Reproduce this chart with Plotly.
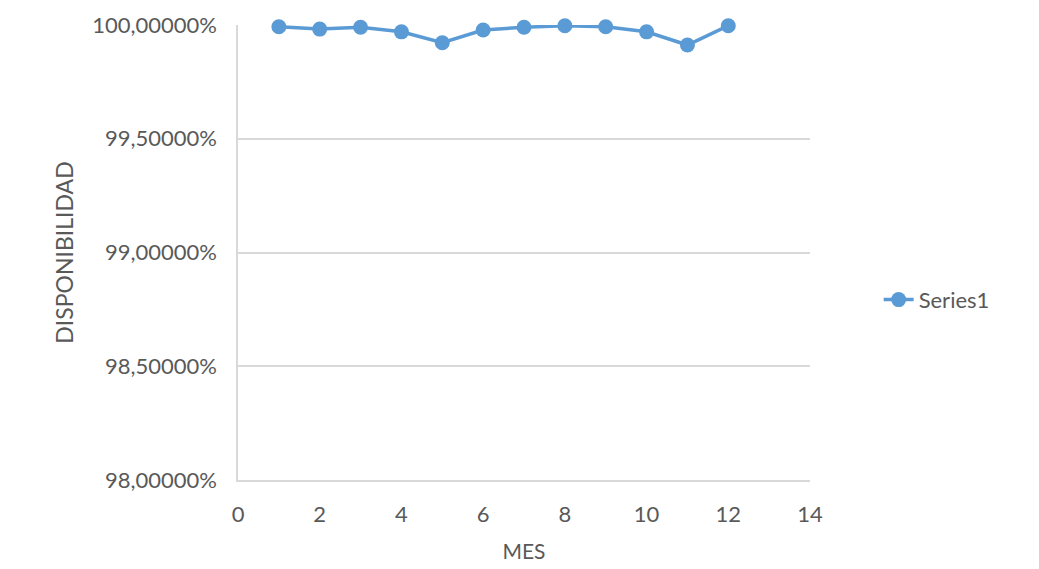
import plotly.graph_objects as go

# Datos: disponibilidad mensual
mes = [1, 2, 3, 4, 5, 6, 7, 8, 9, 10, 11, 12]
disponibilidad = [0.999925, 0.99982, 0.99990, 0.99970, 0.99922, 0.99978,
                  0.99990, 0.99997, 0.999925, 0.99970, 0.99912, 0.99997]

azul = '#5B9BD5'
gris = '#595959'
fuente = 'Lato, Open Sans, sans-serif'

fig = go.Figure()
fig.add_trace(go.Scatter(x=mes, y=disponibilidad, mode='lines+markers',
                         name='Series1', cliponaxis=False,
                         line=dict(color=azul, width=3.5),
                         marker=dict(color=azul, size=15)))

# la página tiene 8px de margen en el body
fig.update_layout(
    width=1039, height=569,
    margin=dict(l=230, r=237, t=17, b=97, autoexpand=False),
    paper_bgcolor='white', plot_bgcolor='white',
    separators=',.',
    font=dict(family=fuente, size=22, color=gris),
    showlegend=True,
    legend=dict(x=1.12, y=0.396, xanchor='left', yanchor='middle',
                font=dict(size=22, color=gris)),
)
fig.update_xaxes(range=[0, 14], dtick=2, tick0=0, showgrid=False,
                 showline=True, linecolor='#d9d9d9', linewidth=1.5,
                 zeroline=False, ticks='', automargin=False,
                 ticklabelstandoff=14,
                 title=dict(text='MES', font=dict(size=21, color=gris), standoff=18))
fig.update_yaxes(range=[0.98, 1.0], dtick=0.005, tickformat='.5%',
                 showgrid=True, gridcolor='#d9d9d9', gridwidth=1.5,
                 showline=True, linecolor='#d9d9d9', linewidth=1.5,
                 zeroline=False, ticks='', ticklabelstandoff=15,
                 automargin=False,
                 title=dict(text='DISPONIBILIDAD', font=dict(size=23, color=gris), standoff=12))

fig.write_html("out.html")
